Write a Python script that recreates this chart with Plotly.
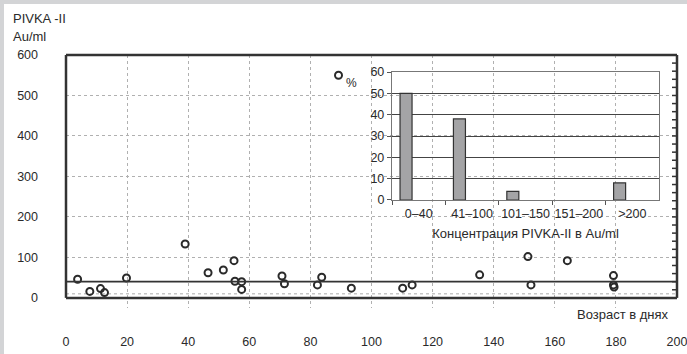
import plotly.graph_objects as go

# Main scatter data: age in days vs PIVKA-II (Au/ml)
age_days = [3.8, 7.8, 11.3, 12.6, 19.8, 39.0, 46.5, 51.5, 55.0, 55.3, 57.5, 57.5,
            70.7, 71.5, 82.3, 83.7, 89.2, 93.4, 110.2, 113.3, 135.4, 151.2, 152.2,
            164.1, 179.2, 179.2, 179.4]
pivka = [46, 16, 23, 13, 49, 133, 62, 69, 92, 41, 40, 21,
         54, 35, 32, 51, 550, 24, 24, 32, 57, 102, 32,
         92, 55, 32, 27]
ref_level = 40
low_level = 10

# Inset histogram
conc_cats = ["0–40", "41–100", "101–150", "151–200", ">200"]
conc_pct = [50, 38, 4, None, 8]

x_ticks = [0, 20, 40, 60, 80, 100, 120, 140, 160, 180, 200]
y_ticks = [0, 100, 200, 300, 400, 500, 600]
right_minor_ticks = list(range(0, 601, 20))
Y_RANGE = [-25, 600]

FONT = "Arial, Liberation Sans, sans-serif"
DARK = "#2a2a2a"
W, H = 687, 354
ML, MR, MT, MB = 66, 10, 55, 46
PW, PH = W - ML - MR, H - MT - MB
FS_TEXT, FS_TICK = 13, 12.5


def ypaper(v):
    return (v - Y_RANGE[0]) / (Y_RANGE[1] - Y_RANGE[0])


fig = go.Figure()

fig.add_trace(go.Scatter(
    x=age_days, y=pivka, mode="markers",
    marker=dict(symbol="circle-open", size=7, line=dict(width=2, color=DARK), color=DARK),
    xaxis="x", yaxis="y", showlegend=False, cliponaxis=False, hoverinfo="skip"))

fig.add_trace(go.Bar(
    x=conc_cats, y=conc_pct, xaxis="x2", yaxis="y2",
    marker=dict(color="#a4a4a6", line=dict(color="#333333", width=1.2)),
    width=0.225, offset=-0.35, showlegend=False, hoverinfo="skip"))

shapes = []
frame = dict(color="#333", width=2.5)
y0p, y600p = ypaper(0), ypaper(600)
shapes.append(dict(type="line", xref="paper", yref="paper", x0=0, x1=1, y0=y600p, y1=y600p, line=frame))
shapes.append(dict(type="line", xref="paper", yref="paper", x0=0, x1=0, y0=y0p, y1=y600p, line=frame))
shapes.append(dict(type="line", xref="paper", yref="paper", x0=1, x1=1, y0=y0p, y1=y600p, line=frame))
shapes.append(dict(type="line", xref="paper", yref="paper", x0=0, x1=1, y0=y0p, y1=y0p, line=frame))
shapes.append(dict(type="line", xref="paper", yref="paper", x0=0, x1=1,
                   y0=ypaper(ref_level), y1=ypaper(ref_level), line=dict(color="#333", width=1.8)))
shapes.append(dict(type="line", xref="paper", yref="paper", x0=0, x1=1,
                   y0=ypaper(low_level), y1=ypaper(low_level),
                   line=dict(color="#aaa", width=1, dash="dot"), layer="below"))
# right-axis minor ticks (pointing inwards)
for t in right_minor_ticks:
    shapes.append(dict(type="line", xref="paper", yref="paper", x0=1, x1=1 - 5 / PW,
                       y0=ypaper(t), y1=ypaper(t), line=dict(color="#333", width=1.5)))
# background gray L-band (top and left)
shapes.append(dict(type="rect", xref="paper", yref="paper", x0=-ML / PW, x1=(W - ML) / PW,
                   y0=1 + (MT - 4) / PH, y1=1 + MT / PH,
                   fillcolor="#d3d4d6", line=dict(width=0), layer="below"))
shapes.append(dict(type="rect", xref="paper", yref="paper", x0=-ML / PW, x1=-(ML - 4) / PW,
                   y0=-MB / PH, y1=1 + MT / PH,
                   fillcolor="#d3d4d6", line=dict(width=0), layer="below"))

fig.update_layout(
    width=W, height=H,
    margin=dict(l=ML, r=MR, t=MT, b=MB, autoexpand=False),
    paper_bgcolor="white", plot_bgcolor="rgba(0,0,0,0)",
    font=dict(family=FONT, size=FS_TEXT, color=DARK),
    shapes=shapes,
    xaxis=dict(range=[0, 200], tickvals=x_ticks, showgrid=True, gridcolor="#b0b0b0",
               griddash="dot", gridwidth=1, zeroline=False, showline=False, ticks="",
               ticklabelstandoff=24, tickfont=dict(size=FS_TICK), domain=[0, 1], automargin=False,
               ticklabeloverflow="allow"),
    yaxis=dict(range=Y_RANGE, tickvals=y_ticks, showgrid=True, gridcolor="#b0b0b0",
               griddash="dot", gridwidth=1, zeroline=False, showline=False, ticks="",
               ticklabelstandoff=27, tickfont=dict(size=FS_TICK), domain=[0, 1], automargin=False,
               ticklabeloverflow="allow"),
    xaxis2=dict(domain=[0.5336, 0.9705], anchor="y2", type="category",
                showline=True, linecolor="#777", linewidth=1.2, mirror=True,
                ticks="outside", tickson="boundaries", ticklen=4, tickcolor="#555",
                showgrid=False, tickfont=dict(size=FS_TICK), ticklabelstandoff=2, tickangle=0,
                automargin=False,
                title=dict(text="Концентрация PIVKA-II в Au/ml", font=dict(size=FS_TEXT), standoff=8)),
    yaxis2=dict(domain=[0.4269, 0.9328], anchor="x2", range=[0, 60], dtick=10,
                showline=True, linecolor="#777", linewidth=1.2, mirror=True,
                ticks="outside", ticklen=4, tickcolor="#555", automargin=False,
                showgrid=True, gridcolor="#444", gridwidth=1, zeroline=False,
                tickfont=dict(size=FS_TICK)),
    bargap=0,
    annotations=[
        dict(text="PIVKA -II", xref="paper", yref="paper", x=-ML / PW, y=1 + (MT - 19) / PH,
             xanchor="left", yanchor="middle", showarrow=False, font=dict(size=FS_TEXT), xshift=11),
        dict(text="Au/ml", xref="paper", yref="paper", x=-ML / PW, y=1 + (MT - 36) / PH,
             xanchor="left", yanchor="middle", showarrow=False, font=dict(size=FS_TEXT), xshift=11),
        dict(text="Возраст в днях", xref="paper", yref="paper", x=1, y=-(314 - 308) / PH,
             xanchor="right", yanchor="middle", showarrow=False, font=dict(size=FS_TEXT), xshift=-6),
        dict(text="%", xref="x", yref="y", x=93.5, y=532, xanchor="center", yanchor="middle",
             showarrow=False, font=dict(size=12)),
    ],
)

post = ("document.body.style.margin='0';document.body.style.overflow='hidden';"
        "var gd=document.getElementById('{plot_id}');Plotly.react(gd, gd.data, gd.layout);")
fig.write_html("out.html", config={"displayModeBar": False, "staticPlot": True},
               post_script=post)
